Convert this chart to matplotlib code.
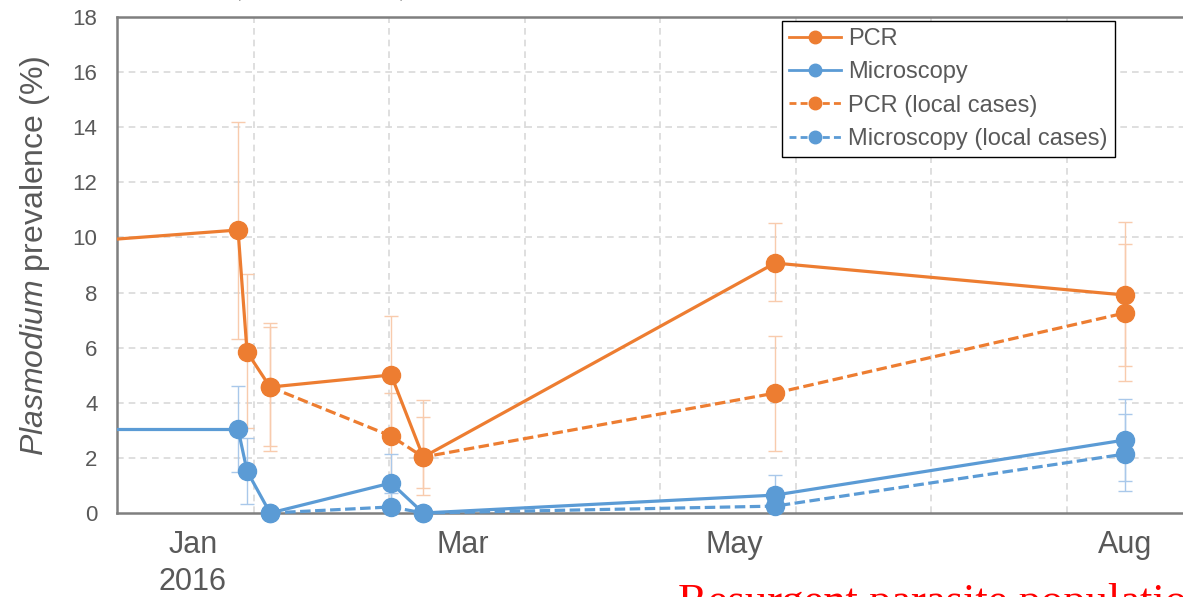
import matplotlib
matplotlib.use("Agg")
import matplotlib.pyplot as plt
import numpy as np

# x positions in days from the left edge of the axis (Jan 2016 onwards)
days = [-20, 26.5, 28.5, 33.6, 60.4, 67.5, 145.4, 222.9]
days_local = [33.6, 60.4, 67.5, 145.4, 222.9]

# prevalence (%) and confidence limits
pcr = [9.7, 10.27, 5.84, 4.57, 5.01, 2.03, 9.07, 7.91]
pcr_lo = [np.nan, 6.3, 3.08, 2.43, 2.9, 0.65, 7.7, 5.33]
pcr_hi = [np.nan, 14.2, 8.67, 6.9, 7.14, 4.1, 10.53, 10.57]

micro = [3.05, 3.05, 1.52, 0.0, 1.09, 0.0, 0.65, 2.65]
micro_lo = [np.nan, 1.49, 0.33, np.nan, 0.3, np.nan, 0.1, 1.16]
micro_hi = [np.nan, 4.6, 2.72, np.nan, 2.14, np.nan, 1.38, 4.14]

pcr_local = [4.57, 2.79, 2.03, 4.35, 7.26]
pcr_local_lo = [2.25, 1.2, 0.9, 2.25, 4.79]
pcr_local_hi = [6.76, 4.35, 3.48, 6.42, 9.76]

micro_local = [0.0, 0.22, 0.0, 0.25, 2.14]
micro_local_lo = [np.nan, 0.0, np.nan, 0.0, 0.8]
micro_local_hi = [np.nan, 0.73, np.nan, 0.9, 3.59]

tick_days = [16.5, 76.3, 136.3, 222.9]
tick_labels = ["Jan\n2016", "Mar", "May", "Aug"]
grid_days = [30, 60, 90, 120, 150, 180, 210]
arrow_days = [26.9, 62.6]

ORANGE = "#ED7D31"
BLUE = "#5B9BD5"
ORANGE_LIGHT = "#F8CBAD"
BLUE_LIGHT = "#A9C8EA"
GREY = "#595959"

plt.rcParams["font.family"] = ["Liberation Sans", "DejaVu Sans"]
plt.rcParams["mathtext.fontset"] = "custom"
plt.rcParams["mathtext.it"] = "Liberation Sans:italic"
plt.rcParams["mathtext.rm"] = "Liberation Sans"

fig = plt.figure(figsize=(11.83, 5.97), dpi=100)
ax = fig.add_axes([117 / 1183, 84 / 597, 1083 / 1183, 496 / 597])


def errbars(x, y, lo, hi, color):
    y = np.array(y, dtype=float)
    lo = np.array(lo, dtype=float)
    hi = np.array(hi, dtype=float)
    ax.errorbar(x, y, yerr=[y - lo, hi - y], fmt="none", ecolor=color,
                elinewidth=1, capsize=5, capthick=1, zorder=2)


errbars(days, pcr, pcr_lo, pcr_hi, ORANGE_LIGHT)
errbars(days_local, pcr_local, pcr_local_lo, pcr_local_hi, ORANGE_LIGHT)
errbars(days, micro, micro_lo, micro_hi, BLUE_LIGHT)
errbars(days_local, micro_local, micro_local_lo, micro_local_hi, BLUE_LIGHT)

dash = (0, (3.3, 1.4))
mk = dict(marker="o", markersize=13, lw=2.3, clip_on=False, zorder=4)

# segments coming in from before the visible window
ax.plot(days[:2], pcr[:2], color=ORANGE, lw=2.3, zorder=3)
ax.plot(days[:2], micro[:2], color=BLUE, lw=2.3, zorder=3)

ax.plot(days_local, micro_local, color=BLUE, ls=dash, **mk)
ax.plot(days_local, pcr_local, color=ORANGE, ls=dash, **mk)
ax.plot(days[1:], micro[1:], color=BLUE, **mk)
ax.plot(days[1:], pcr[1:], color=ORANGE, **mk)

ax.set_xlim(-0.3, 239.5)
ax.set_ylim(0, 18)
ax.set_yticks(np.arange(0, 19, 2))
ax.set_xticks(tick_days)
ax.set_xticklabels(tick_labels, linespacing=1.3)
ax.tick_params(axis="y", length=0, pad=14, labelsize=16, labelcolor=GREY)
ax.tick_params(axis="x", length=0, pad=12, labelsize=22, labelcolor=GREY)

for y in range(2, 18, 2):
    ax.axhline(y, color="#D9D9D9", lw=1.2, ls=(0, (4, 3)), zorder=1)
for d in grid_days:
    ax.axvline(d, color="#D9D9D9", lw=1.2, ls=(0, (4, 3)), zorder=1)

for side in ["left", "bottom", "top"]:
    ax.spines[side].set_color("#7F7F7F")
    ax.spines[side].set_linewidth(1.8)
ax.spines["right"].set_visible(False)

fig.text(35 / 1183, 1 - 256 / 597, r"$\it{Plasmodium}$ prevalence (%)",
         rotation=90, ha="center", va="center", fontsize=23, color=GREY)

handles = [
    plt.Line2D([], [], color=ORANGE, marker="o", markersize=9, lw=2),
    plt.Line2D([], [], color=BLUE, marker="o", markersize=9, lw=2),
    plt.Line2D([], [], color=ORANGE, marker="o", markersize=9, lw=2, ls=(0, (2.5, 1.5))),
    plt.Line2D([], [], color=BLUE, marker="o", markersize=9, lw=2, ls=(0, (2.5, 1.5))),
]
labels = ["PCR", "Microscopy", "PCR (local cases)", "Microscopy (local cases)"]
leg = ax.legend(handles, labels, loc="upper left",
                bbox_to_anchor=(782 / 1183, 1 - 21 / 597),
                bbox_transform=fig.transFigure, borderaxespad=0,
                fontsize=17, handlelength=2.2, handletextpad=0.3,
                labelspacing=0.48, borderpad=0.3, fancybox=False,
                framealpha=1, edgecolor="black")
leg.get_frame().set_linewidth(1)
for t in leg.get_texts():
    t.set_color(GREY)

for d in arrow_days:
    ax.annotate("", xy=(d, 18.47), xytext=(d, 20.5),
                arrowprops=dict(arrowstyle="-|>", color="black", lw=1,
                                mutation_scale=12),
                annotation_clip=False)

# caption below the chart, cut off by the image edge as in the source figure
fig.text(678 / 1183, (597 - 614) / 597, "Resurgent parasite population",
         fontsize=32, color="red", family="Liberation Serif",
         ha="left", va="baseline")

fig.savefig("out.png", dpi=100)
